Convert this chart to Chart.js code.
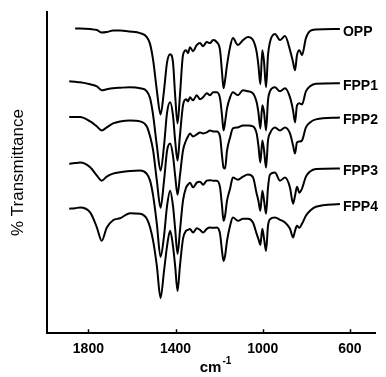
<!DOCTYPE html>
<html>
<head>
<meta charset="utf-8">
<script src="https://cdn.jsdelivr.net/npm/chart.js@4"></script>
<style>
  body { margin: 0; background: #fff; }
  canvas { display: block; }
</style>
</head>
<body>
<canvas id="ftir" width="386" height="377"></canvas>
<script>
// FTIR spectra, stacked (offset) transmittance traces, arbitrary units

// wavenumber grid (cm-1)
const wavenumbers = [1888, 1861, 1838, 1792, 1761, 1739, 1716, 1687, 1655, 1609,
  1563, 1532, 1517, 1503, 1486, 1469, 1453, 1439, 1425, 1412,
  1402, 1391, 1380, 1366, 1352, 1343, 1334, 1320, 1303, 1288,
  1274, 1257, 1242, 1228, 1211, 1196, 1187, 1180, 1173, 1164,
  1150, 1137, 1114, 1091, 1068, 1045, 1028, 1020, 1011, 1002,
  994, 985, 976, 967, 944, 921, 898, 875, 861, 852,
  843, 832, 820, 802, 783, 756, 646];

const opp = [null, 303.5, 303.5, 303, 302, 299.5, 300, 301.5, 301.5, 300.5,
  299, 295, 288, 272, 242, 218, 242, 270, 278, 270,
  237, 209, 237, 277, 282, 279, 285, 281, 287, 289,
  286, 290, 289, 292, 290, 282, 260, 244, 252, 267,
  285, 294, 287, 292, 295, 292, 280, 267, 248, 282,
  270, 245, 277, 290, 298, 292, 296, 282, 270, 262,
  277, 282, 277, 294, 301, 302.5, 303];

const fpp1 = [251, 250.5, 250, 248, 246, 242, 243, 244, 244.5, 245,
  244, 241, 234, 217, 187, 162, 187, 220, 230, 217,
  192, 172, 197, 227, 233, 231, 235, 232, 237, 233,
  235, 239, 237, 240, 240, 234, 217, 202, 210, 224,
  235, 240, 237, 242, 241, 239, 230, 220, 204, 227,
  220, 202, 232, 241, 245, 241, 244, 235, 222, 210,
  227, 229, 228, 241, 246, 248.5, 249];

const fpp2 = [215.3, 215.5, 215.5, 211, 206, 202, 205, 209, 211, 212,
  211, 206, 196, 182, 152, 125, 152, 182, 189, 177,
  157, 138, 157, 182, 192, 196, 199, 196, 198, 200,
  199, 200, 202, 201, 201, 196, 177, 165, 164, 182,
  195, 204, 205, 207, 207, 206, 199, 187, 170, 192,
  182, 165, 192, 199, 205, 202, 205, 199, 187, 179,
  190, 191, 192, 205, 210, 213, 215];

const fpp3 = [168.7, 169.5, 170, 165.3, 157, 152, 156, 159, 160.3, 161.5,
  162, 158.7, 152, 137, 109, 76, 97, 127, 142, 127,
  104, 79, 102, 132, 145, 148, 150, 145.3, 150, 151,
  148, 152, 152.5, 152, 152, 145.3, 127, 112, 117, 132,
  144, 155, 153, 156, 158, 155.3, 139, 132, 122, 142,
  132, 119, 145, 158, 160, 152, 155, 145, 129, 137,
  146, 140, 144, 156, 161, 163.5, 164];

const fpp4 = [124, 124.5, 125.3, 120.3, 105.3, 92, 105, 112.5, 114.5, 119.5,
  119, 114, 105.3, 92, 67, 35, 62, 87, 102, 87,
  67, 42, 67, 94, 102, 103, 103.7, 100.3, 104.5, 103,
  100.3, 104, 105.3, 105, 105.3, 99, 82, 72, 77, 92,
  107, 115.3, 112, 114, 114, 110.3, 99, 94, 88, 104,
  94, 82, 107, 113.5, 115.3, 113, 110.3, 104, 95.3, 102,
  107, 105, 109, 117, 122, 126, 128.7];

const seriesNames = ['OPP', 'FPP1', 'FPP2', 'FPP3', 'FPP4'];
const seriesValues = [opp, fpp1, fpp2, fpp3, fpp4];
const xTicks = [1800, 1400, 1000, 600];

const FONT = '"Liberation Sans", Arial, Helvetica, sans-serif';

// names at the right end of each trace, ticks pointing inward, axis titles
const decorations = {
    id: 'decorations',
    afterDatasetsDraw(chart) {
        const ctx = chart.ctx;
        const x = chart.scales.x;
        const area = chart.chartArea;
        ctx.save();
        ctx.fillStyle = '#000';
        ctx.strokeStyle = '#000';

        // trace names
        ctx.font = 'bold 14px ' + FONT;
        ctx.textBaseline = 'middle';
        ctx.textAlign = 'left';
        chart.data.datasets.forEach((ds, i) => {
            const pts = chart.getDatasetMeta(i).data;
            const last = pts[pts.length - 1];
            ctx.fillText(ds.label, last.x + 3, last.y + 3);
        });

        // inward tick marks on bottom axis
        ctx.lineWidth = 1.5;
        xTicks.forEach(v => {
            const px = Math.round(x.getPixelForValue(v)) + 0.5;
            ctx.beginPath();
            ctx.moveTo(px, area.bottom);
            ctx.lineTo(px, area.bottom - 4);
            ctx.stroke();
        });

        // x title: cm-1 with superscript
        ctx.textBaseline = 'alphabetic';
        ctx.font = 'bold 15px ' + FONT;
        const base = 'cm';
        const wBase = ctx.measureText(base).width;
        ctx.font = 'bold 10px ' + FONT;
        const sup = '-1';
        const wSup = ctx.measureText(sup).width;
        const cx = (area.left + area.right) / 2 + 4;
        const left = cx - (wBase + wSup) / 2;
        ctx.font = 'bold 15px ' + FONT;
        ctx.fillText(base, left, 372);
        ctx.font = 'bold 10px ' + FONT;
        ctx.fillText(sup, left + wBase + 1, 364);

        // y title
        ctx.font = '17px ' + FONT;
        ctx.textAlign = 'center';
        ctx.textBaseline = 'middle';
        ctx.translate(18, (area.top + area.bottom) / 2);
        ctx.rotate(-Math.PI / 2);
        ctx.fillText('% Transmittance', 0, 0);
        ctx.restore();
    }
};

const datasets = seriesNames.map((name, s) => ({
    label: name,
    data: wavenumbers.map((w, i) => ({ x: w, y: seriesValues[s][i] })),
    borderColor: '#000',
    borderWidth: 2,
    pointRadius: 0,
    fill: false,
    cubicInterpolationMode: 'monotone'
}));

new Chart(document.getElementById('ftir'), {
    type: 'line',
    data: { datasets },
    options: {
        responsive: false,
        animation: false,
        layout: { padding: { left: 47, right: 11, top: 12, bottom: 11 } },
        plugins: {
            legend: { display: false },
            tooltip: { enabled: false }
        },
        scales: {
            x: {
                type: 'linear',
                reverse: true,
                min: 485,
                max: 1990,
                afterBuildTicks: scale => {
                    scale.ticks = xTicks.map(v => ({ value: v }));
                },
                grid: { drawOnChartArea: false, drawTicks: false },
                border: { color: '#000', width: 2 },
                ticks: {
                    color: '#000',
                    padding: 8,
                    font: { family: FONT, size: 14, weight: 'bold' },
                    maxRotation: 0,
                    callback: v => String(v)
                }
            },
            y: {
                min: 0,
                max: 320,
                grid: { drawOnChartArea: false, drawTicks: false },
                border: { color: '#000', width: 2 },
                ticks: { display: false }
            }
        }
    },
    plugins: [decorations]
});
</script>
</body>
</html>
